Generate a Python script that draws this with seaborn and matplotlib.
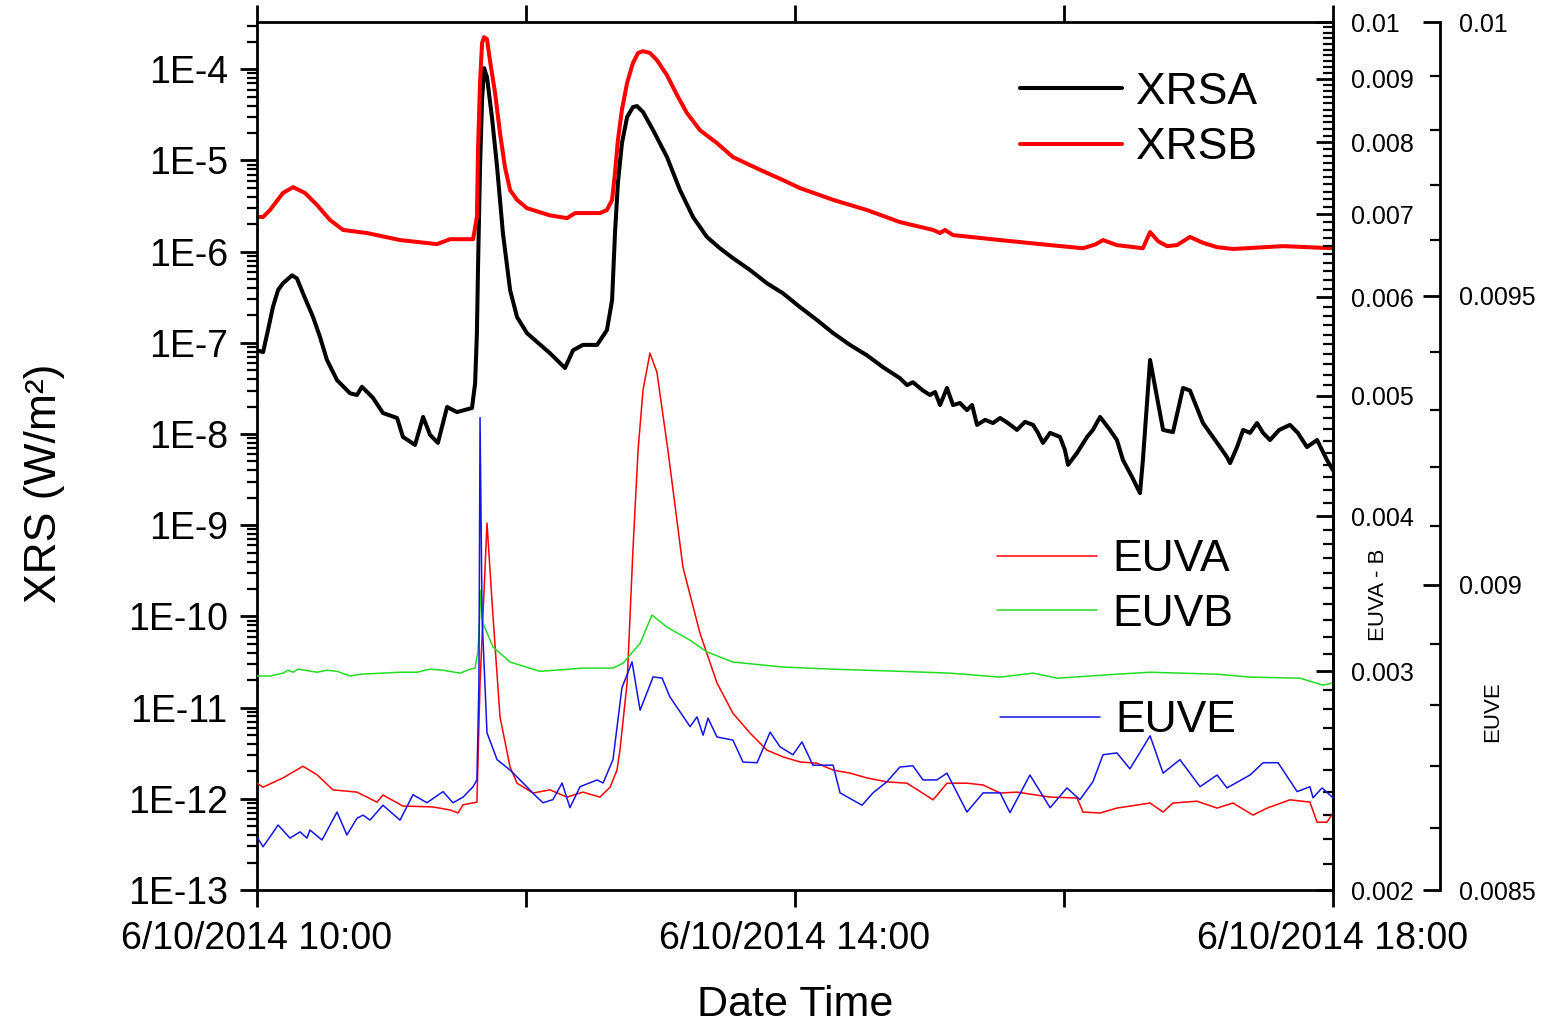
import numpy as np
import pandas as pd
import matplotlib
matplotlib.use("Agg")
import matplotlib.pyplot as plt
import matplotlib.dates as mdates
from matplotlib.ticker import FixedLocator, FuncFormatter, NullFormatter
from matplotlib.lines import Line2D
import seaborn as sns

# ---------------- data (minutes after 6/10/2014 10:00) ----------------
xrsa_minutes = [0, 2.7, 4.9, 7.1, 9.4, 11.6, 15.6, 17.8, 20.5, 25.0, 28.1, 31.2, 35.7, 41.5, 44.6, 46.8,
                51.7, 56.2, 62.5, 65.1, 70.5, 74.1, 77.2, 80.7, 84.8, 89.2, 95.9, 97.3, 98.1, 98.6, 99.5,
                100.4, 101.3, 102.6, 104.8, 107.1, 109.7, 112.9, 116.0, 120.4, 130.7, 137.4, 141.0, 145.4,
                151.7, 156.1, 158.4, 159.7, 161.0, 162.8, 165.1, 167.7, 169.5, 172.2, 176.7, 182.9, 188.7,
                194.5, 200.7, 206.5, 212.3, 219.9, 227.5, 234.6, 242.2, 249.8, 257.0, 264.5, 272.1, 279.3,
                286.8, 290.0, 292.6, 297.1, 300.2, 302.5, 304.7, 307.8, 310.5, 313.6, 316.7, 319.0, 321.2,
                324.8, 328.3, 331.5, 335.0, 339.0, 342.6, 346.2, 348.4, 350.6, 353.8, 358.2, 360.4, 361.8,
                365.8, 370.3, 372.9, 376.1, 380.5, 383.6, 386.3, 390.3, 393.9, 395.2, 398.4, 404.2, 408.6,
                413.1, 416.2, 422.0, 428.3, 432.7, 434.1, 437.2, 439.9, 443.0, 446.1, 448.8, 451.9, 456.0,
                460.8, 464.3, 468.4, 472.9, 475.1, 477.3, 480.0]
xrsa_flux = [8.3e-8, 7.9e-8, 1.38e-7, 2.47e-7, 3.8e-7, 4.5e-7, 5.5e-7, 5.1e-7, 3.5e-7, 1.92e-7, 1.16e-7,
             6.5e-8, 3.9e-8, 2.8e-8, 2.68e-8, 3.3e-8, 2.5e-8, 1.7e-8, 1.5e-8, 9.3e-9, 7.6e-9, 1.54e-8,
             9.8e-9, 8.0e-9, 1.98e-8, 1.74e-8, 1.93e-8, 3.6e-8, 1.28e-7, 6.8e-7, 8.5e-6, 4.6e-5, 1.03e-4,
             8.2e-5, 2.99e-5, 8.5e-6, 1.6e-6, 3.8e-7, 1.92e-7, 1.28e-7, 7.7e-8, 5.3e-8, 8.3e-8, 9.5e-8,
             9.5e-8, 1.38e-7, 2.94e-7, 1.6e-6, 5.65e-6, 1.55e-5, 2.99e-5, 3.85e-5, 3.95e-5, 3.4e-5,
             2.15e-5, 1.09e-5, 4.73e-6, 2.4e-6, 1.45e-6, 1.09e-6, 8.5e-7, 6.3e-7, 4.5e-7, 3.5e-7, 2.47e-7,
             1.78e-7, 1.28e-7, 9.5e-8, 7.3e-8, 5.4e-8, 4.1e-8, 3.44e-8, 3.7e-8, 3.0e-8, 2.68e-8, 2.89e-8,
             2.08e-8, 3.2e-8, 2.08e-8, 2.19e-8, 1.83e-8, 2.08e-8, 1.26e-8, 1.43e-8, 1.32e-8, 1.5e-8,
             1.32e-8, 1.11e-8, 1.36e-8, 1.26e-8, 1.03e-8, 8.0e-9, 1.03e-8, 9.3e-9, 6.7e-9, 4.6e-9, 6.2e-9,
             9.3e-9, 1.11e-8, 1.54e-8, 1.11e-8, 8.6e-9, 5.2e-9, 3.4e-9, 2.25e-9, 5.2e-9, 6.5e-8, 1.11e-8,
             1.05e-8, 3.2e-8, 3.0e-8, 1.32e-8, 8.0e-9, 5.6e-9, 4.8e-9, 7.2e-9, 1.11e-8, 1.03e-8, 1.32e-8,
             1.03e-8, 8.6e-9, 1.11e-8, 1.26e-8, 1.03e-8, 7.2e-9, 8.6e-9, 6.7e-9, 5.2e-9, 4.0e-9]

xrsb_minutes = [0, 2.7, 5.8, 11.6, 16.1, 21.4, 26.8, 32.6, 38.4, 49.1, 63.8, 80.3, 86.1, 96.4, 98.1, 98.6,
                99.5, 100.4, 101.3, 102.6, 103.9, 106.2, 108.4, 110.6, 112.9, 116.0, 120.4, 130.7, 138.3,
                141.9, 153.0, 156.1, 158.4, 159.7, 161.0, 162.8, 165.1, 167.7, 170.0, 172.2, 175.3, 178.4,
                182.9, 187.4, 191.8, 197.6, 205.2, 212.3, 219.9, 227.5, 234.6, 242.2, 257.0, 272.1, 286.8,
                301.6, 304.7, 306.9, 310.5, 331.5, 353.8, 368.5, 374.0, 377.4, 383.6, 395.2, 398.4, 402.0,
                406.0, 410.4, 416.2, 422.0, 428.3, 435.4, 457.7, 480.0]
xrsb_flux = [2.4e-6, 2.4e-6, 2.86e-6, 4.4e-6, 5.1e-6, 4.4e-6, 3.24e-6, 2.22e-6, 1.73e-6, 1.6e-6, 1.34e-6,
             1.21e-6, 1.37e-6, 1.37e-6, 2.4e-6, 1.3e-5, 7.1e-5, 1.94e-4, 2.25e-4, 2.14e-4, 1.26e-4, 5.5e-5,
             2.0e-5, 8.5e-6, 4.73e-6, 3.7e-6, 3.0e-6, 2.5e-6, 2.33e-6, 2.65e-6, 2.65e-6, 2.86e-6, 3.7e-6,
             7.3e-6, 1.67e-5, 3.6e-5, 7.1e-5, 1.17e-4, 1.51e-4, 1.58e-4, 1.51e-4, 1.26e-4, 8.6e-5, 5.2e-5,
             3.31e-5, 2.15e-5, 1.55e-5, 1.09e-5, 8.9e-6, 7.3e-6, 6.1e-6, 4.98e-6, 3.7e-6, 2.86e-6, 2.11e-6,
             1.73e-6, 1.6e-6, 1.73e-6, 1.52e-6, 1.34e-6, 1.18e-6, 1.09e-6, 1.2e-6, 1.34e-6, 1.18e-6,
             1.09e-6, 1.64e-6, 1.3e-6, 1.15e-6, 1.18e-6, 1.45e-6, 1.25e-6, 1.12e-6, 1.07e-6, 1.15e-6,
             1.09e-6]

euva_minutes = [0, 2.7, 11.6, 20.5, 26.8, 33.9, 44.6, 53.5, 56.2, 65.1, 78.5, 86.1, 89.7, 91.9, 98.1, 99.5,
                102.6, 105.3, 108.4, 112.9, 116.0, 123.1, 130.7, 138.3, 145.4, 153.0, 157.5, 160.6, 161.9,
                165.1, 167.7, 170.0, 172.2, 175.3, 178.4, 183.3, 190.0, 197.6, 205.2, 212.3, 219.9, 227.5,
                234.6, 242.2, 249.8, 257.0, 264.5, 272.1, 281.0, 290.0, 301.6, 307.8, 316.7, 323.9, 331.5,
                339.0, 353.8, 365.8, 368.5, 376.1, 383.6, 398.4, 404.2, 408.6, 419.3, 428.3, 435.4, 444.3,
                450.6, 460.8, 469.7, 472.9, 477.3, 480.0]
euva_value = [0.002438, 0.00242, 0.002462, 0.002516, 0.002476, 0.002408, 0.002398, 0.002354, 0.002385,
              0.002337, 0.002333, 0.00232, 0.002307, 0.002342, 0.002354, 0.002936, 0.003949, 0.003318,
              0.002757, 0.002512, 0.002438, 0.002394, 0.002408, 0.002376, 0.002398, 0.002376, 0.00242,
              0.002498, 0.002592, 0.002936, 0.003756, 0.004522, 0.005054, 0.005412, 0.005224, 0.004522,
              0.00364, 0.00322, 0.002936, 0.002776, 0.002676, 0.002592, 0.00256, 0.002536, 0.00253,
              0.002498, 0.002484, 0.002462, 0.002444, 0.002438, 0.002364, 0.002438, 0.002438, 0.00243,
              0.002394, 0.002398, 0.002376, 0.002372, 0.002311, 0.002307, 0.002328, 0.00235, 0.002311,
              0.00235, 0.002358, 0.002328, 0.00235, 0.002298, 0.002328, 0.002364, 0.002354, 0.002268,
              0.002268, 0.002307]

euvb_minutes = [0, 5.8, 11.6, 13.8, 16.1, 18.3, 26.8, 31.2, 35.7, 41.5, 46.0, 56.2, 63.8, 71.4, 77.2, 83.0,
                90.6, 95.1, 97.3, 98.6, 99.9, 100.8, 105.3, 112.9, 126.2, 145.4, 158.8, 163.3, 170.9, 176.2,
                182.9, 193.2, 200.7, 212.3, 234.6, 257.0, 286.8, 309.1, 331.5, 346.2, 356.9, 383.6, 398.4,
                428.3, 443.0, 465.3, 475.5, 480.0]
euvb_value = [0.002974, 0.002974, 0.00299, 0.003006, 0.002995, 0.003012, 0.002995, 0.003006, 0.003,
              0.002974, 0.002984, 0.00299, 0.002995, 0.002995, 0.003012, 0.003006, 0.00299, 0.003012,
              0.003018, 0.00312, 0.003488, 0.00328, 0.003138, 0.003052, 0.003, 0.003018, 0.003018,
              0.003046, 0.00316, 0.00333, 0.003256, 0.003178, 0.00311, 0.003052, 0.003024, 0.003012,
              0.003, 0.00299, 0.002968, 0.00299, 0.002962, 0.002984, 0.002995, 0.002984, 0.002968,
              0.002962, 0.002924, 0.002936]

euve_minutes = [0, 2.7, 5.8, 9.4, 14.7, 19.2, 22.3, 23.6, 29.0, 35.7, 40.1, 44.6, 47.3, 50.4, 56.2, 63.8,
                69.6, 75.8, 83.0, 87.4, 91.9, 96.4, 98.1, 99.0, 99.5, 100.4, 102.6, 107.1, 112.9, 118.7,
                124.9, 127.6, 132.0, 136.1, 139.6, 144.1, 151.7, 154.4, 158.8, 162.8, 167.3, 170.9, 176.7,
                180.7, 184.2, 193.2, 196.3, 199.0, 201.2, 205.2, 212.3, 216.8, 223.1, 228.9, 233.3, 239.1,
                243.1, 248.0, 257.0, 260.1, 269.9, 274.8, 281.0, 286.8, 292.6, 297.1, 303.3, 307.8, 316.7,
                323.9, 331.5, 335.9, 344.8, 353.8, 361.3, 367.1, 372.9, 377.4, 383.6, 389.4, 398.4, 404.2,
                411.7, 420.7, 428.3, 432.7, 443.0, 448.8, 455.5, 464.0, 469.7, 471.1, 475.1, 480.0]
euve_value = [0.008585, 0.008569, 0.008585, 0.008604, 0.008583, 0.008593, 0.008583, 0.008596, 0.008580,
              0.008625, 0.008588, 0.008615, 0.008620, 0.008612, 0.008636, 0.008612, 0.008653, 0.008640,
              0.008658, 0.008640, 0.008649, 0.008666, 0.008677, 0.008836, 0.009286, 0.008946, 0.008754,
              0.008710, 0.008693, 0.008672, 0.008649, 0.008640, 0.008645, 0.008672, 0.008632, 0.008666,
              0.008677, 0.008672, 0.008710, 0.008828, 0.008871, 0.008791, 0.008846, 0.008844, 0.008813,
              0.008764, 0.008780, 0.008750, 0.008778, 0.008747, 0.008742, 0.008706, 0.008705, 0.008755,
              0.008731, 0.008718, 0.008739, 0.008701, 0.008701, 0.008656, 0.008636, 0.008656, 0.008674,
              0.008698, 0.008700, 0.008677, 0.008677, 0.008688, 0.008625, 0.008656, 0.008656, 0.008624,
              0.008685, 0.008632, 0.008664, 0.008645, 0.008674, 0.008718, 0.008721, 0.008695, 0.008749,
              0.008688, 0.008710, 0.008666, 0.008685, 0.008664, 0.008685, 0.008705, 0.008705, 0.008658,
              0.008666, 0.008648, 0.008664, 0.008648]

xrs_ticks = [1e-13, 1e-12, 1e-11, 1e-10, 1e-9, 1e-8, 1e-7, 1e-6, 1e-5, 1e-4]
euvab_ticks = [0.002, 0.003, 0.004, 0.005, 0.006, 0.007, 0.008, 0.009, 0.01]
euve_ticks = [0.0085, 0.009, 0.0095, 0.01]
labeled_hours = [10, 14, 18]

# ---------------- style ----------------
sns.set_theme(style="ticks")
plt.rcParams["font.family"] = ["Liberation Sans", "DejaVu Sans"]
for k in ["text.color", "axes.labelcolor", "xtick.color", "ytick.color", "axes.edgecolor"]:
    plt.rcParams[k] = "black"
plt.rcParams["axes.linewidth"] = 2.0

t0 = pd.Timestamp("2014-06-10 10:00")


def to_time(mins):
    return t0 + pd.to_timedelta(np.asarray(mins, dtype=float), unit="m")


W, H = 1541, 1027
L, R, T, B = 257, 1333, 22, 890
R3 = 1440  # outer EUVE spine
fig = plt.figure(figsize=(W / 100, H / 100), dpi=100)
ax = fig.add_axes([L / W, 1 - B / H, (R - L) / W, (B - T) / H])
ax2 = ax.twinx()
ax3 = fig.add_axes([L / W, 1 - B / H, (R3 - L) / W, (B - T) / H])
ax3.patch.set_visible(False)

lw_thick = 2.9
lw_thin = 1.1
c_red = "#ff0000"
c_green = "#22dd22"
c_blue = "#1414e6"

sns.lineplot(x=to_time(xrsa_minutes), y=xrsa_flux, ax=ax, color="black", linewidth=lw_thick,
             estimator=None, sort=False, legend=False)
sns.lineplot(x=to_time(xrsb_minutes), y=xrsb_flux, ax=ax, color=c_red, linewidth=lw_thick,
             estimator=None, sort=False, legend=False)
sns.lineplot(x=to_time(euva_minutes), y=euva_value, ax=ax2, color=c_red, linewidth=lw_thin,
             estimator=None, sort=False, legend=False)
sns.lineplot(x=to_time(euvb_minutes), y=euvb_value, ax=ax2, color=c_green, linewidth=lw_thin,
             estimator=None, sort=False, legend=False)
sns.lineplot(x=to_time(euve_minutes), y=euve_value, ax=ax3, color=c_blue, linewidth=lw_thin,
             estimator=None, sort=False, legend=False)

# ---- main axis (XRS) ----
ax.set_yscale("log")
ax.set_ylim(1e-13, 3.3e-4)
ax.set_xlim(t0, t0 + pd.Timedelta(hours=8))
ax.yaxis.set_major_locator(FixedLocator(xrs_ticks))
ax.yaxis.set_major_formatter(FuncFormatter(lambda v, p: "1E%d" % int(round(np.log10(v)))))
minor_vals = [m * 10.0 ** e for e in range(-13, -3) for m in range(2, 10)]
ax.yaxis.set_minor_locator(FixedLocator(minor_vals))
ax.yaxis.set_minor_formatter(NullFormatter())

ax.xaxis.set_major_locator(mdates.HourLocator(byhour=[10, 12, 14, 16, 18]))


def xfmt(v, p):
    d = pd.Timestamp(mdates.num2date(v)).tz_localize(None).round("min")
    if d.hour in labeled_hours and d.minute == 0:
        return "%d/%d/%d %d:%02d" % (d.month, d.day, d.year, d.hour, d.minute)
    return ""


ax.xaxis.set_major_formatter(FuncFormatter(xfmt))
ax.xaxis.set_minor_locator(FixedLocator([]))

ax.tick_params(axis="y", which="major", direction="out", length=12, width=2, labelsize=27, pad=9,
               left=True, right=False)
ax.tick_params(axis="y", which="minor", direction="out", length=7, width=1.6, left=True, right=False)
ax.tick_params(axis="x", which="major", direction="out", length=12, width=2, labelsize=27, pad=10,
               top=True, bottom=True)
for s in ax.spines.values():
    s.set_linewidth(2)

ax.set_xlabel("Date Time", fontsize=31)
ax.xaxis.set_label_coords(0.5, -0.109)
ax.set_ylabel("XRS (W/m²)", fontsize=32)
ax.yaxis.set_label_coords(-0.178, 0.469)

# ---- EUVA-B axis (on the right frame line) ----
ax2.set_yscale("log")
ax2.set_ylim(0.002, 0.01)
ax2.yaxis.set_major_locator(FixedLocator(euvab_ticks))
ax2.yaxis.set_major_formatter(FuncFormatter(lambda v, p: "%g" % v))
ab_minor = [round(0.002 + 0.0001 * i, 5) for i in range(81)]
ab_minor = [v for v in ab_minor if all(abs(v - t) > 1e-7 for t in euvab_ticks)]
ax2.yaxis.set_minor_locator(FixedLocator(ab_minor))
ax2.yaxis.set_minor_formatter(NullFormatter())
ax2.tick_params(axis="y", which="major", direction="in", length=12, width=2, labelsize=18, pad=13,
                right=True, left=False)
ax2.tick_params(axis="y", which="minor", direction="in", length=7, width=1.6, right=True, left=False)
ax2.set_ylabel("")
for k in ["left", "top", "bottom"]:
    ax2.spines[k].set_visible(False)
ax2.spines["right"].set_linewidth(2)

# ---- EUVE axis (outer spine) ----
ax3.set_xlim(t0, t0 + pd.Timedelta(hours=8 * (R3 - L) / (R - L)))
ax3.xaxis.set_visible(False)
for k in ["left", "top", "bottom"]:
    ax3.spines[k].set_visible(False)
ax3.spines["right"].set_linewidth(2)
ax3.yaxis.tick_right()
ax3.set_yscale("log")
ax3.set_ylim(0.0085, 0.01)
ax3.yaxis.set_major_locator(FixedLocator(euve_ticks))
ax3.yaxis.set_major_formatter(FuncFormatter(lambda v, p: "%g" % v))
e_minor = [round(0.0085 + 0.0001 * i, 5) for i in range(16)]
e_minor = [v for v in e_minor if all(abs(v - t) > 1e-7 for t in euve_ticks)]
ax3.yaxis.set_minor_locator(FixedLocator(e_minor))
ax3.yaxis.set_minor_formatter(NullFormatter())
ax3.tick_params(axis="y", which="major", direction="in", length=12, width=2, labelsize=18, pad=14,
                right=True, left=False, labelright=True, labelleft=False)
ax3.tick_params(axis="y", which="minor", direction="in", length=7, width=1.6, right=True, left=False)
ax3.set_ylabel("")

narrow = ["Liberation Sans Narrow", "Liberation Sans", "DejaVu Sans"]
ax.text((1378 - L) / (R - L), (B - 595) / (B - T), "EUVA - B", transform=ax.transAxes, rotation=90,
        ha="center", va="center", fontsize=16, family=narrow)
ax.text((1493 - L) / (R - L), (B - 712) / (B - T), "EUVE", transform=ax.transAxes, rotation=90,
        ha="center", va="center", fontsize=16, family=narrow)

# ---- legends ----
common = dict(frameon=False, fontsize=32, borderpad=0, borderaxespad=0, loc="center left",
              bbox_transform=ax.transAxes)
leg1 = ax3.legend(handles=[Line2D([], [], color="black", lw=lw_thick), Line2D([], [], color=c_red, lw=lw_thick)],
                  labels=["XRSA", "XRSB"], bbox_to_anchor=((1020 - L) / (R - L), (B - 120) / (B - T)),
                  handlelength=2.3, handletextpad=0.3, labelspacing=0.33, **common)
ax3.add_artist(leg1)
leg2 = ax3.legend(handles=[Line2D([], [], color=c_red, lw=lw_thin), Line2D([], [], color=c_green, lw=lw_thin)],
                  labels=["EUVA", "EUVB"], bbox_to_anchor=((997 - L) / (R - L), (B - 587) / (B - T)),
                  handlelength=2.25, handletextpad=0.34, labelspacing=0.3, **common)
ax3.add_artist(leg2)
leg3 = ax3.legend(handles=[Line2D([], [], color=c_blue, lw=lw_thin)], labels=["EUVE"],
                  bbox_to_anchor=((1000 - L) / (R - L), (B - 721) / (B - T)),
                  handlelength=2.25, handletextpad=0.34, **common)

fig.savefig("out.png", dpi=100)
